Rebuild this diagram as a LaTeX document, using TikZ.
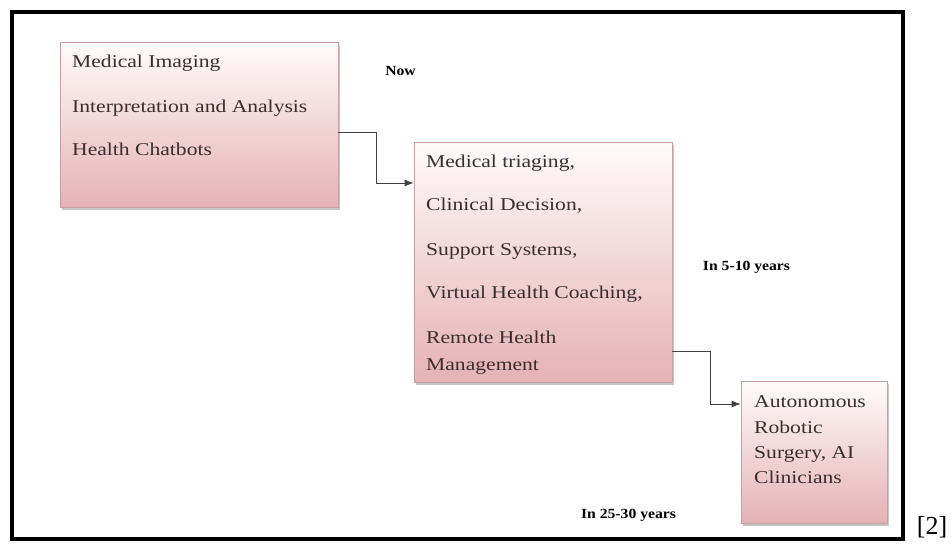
\documentclass[tikz,border=0pt]{standalone}
\usepackage{fontspec}
\setmainfont{Liberation Serif}
\newfontfamily\wideserif[FakeStretch=1.2]{Liberation Serif}
\newfontfamily\widebold[FakeStretch=1.12]{Liberation Serif Bold}
\usetikzlibrary{shadows,arrows.meta}
\definecolor{pinktop}{RGB}{255,251,251}
\definecolor{pinkbot}{RGB}{229,178,180}
\definecolor{boxline}{RGB}{200,160,162}
\definecolor{txt}{RGB}{58,46,46}
\begin{document}
\begin{tikzpicture}[x=1pt,y=-1pt,
  box/.style={draw=boxline,line width=0.8pt,rectangle,top color=pinktop,bottom color=pinkbot,
    drop shadow={shadow xshift=1.5pt,shadow yshift=-2.5pt,fill=black!45,opacity=0.5},inner sep=0pt},
  line/.style={anchor=base west,inner sep=0pt,text=txt,font=\wideserif\fontsize{18}{20}\selectfont},
  lab/.style={inner sep=0pt,font=\widebold\fontsize{14}{16}\selectfont},
  conn/.style={draw=black!75,line width=0.9pt,-{Latex[length=9pt,width=7pt]}}]
\useasboundingbox (0,0) rectangle (952,547);
\node[draw,line width=3.2pt,minimum width=891pt,minimum height=527pt,inner sep=0pt] (frame) at (457.5,275.5) {};
% boxes
\node[box,minimum width=278pt,minimum height=165pt] (b1) at (199,124.5) {};
\node[box,minimum width=258pt,minimum height=240pt] (b2) at (543,262) {};
\node[box,minimum width=146pt,minimum height=142pt] (b3) at (814,452) {};
% box 1 text
\node[line] (t11) at (72,67) {Medical Imaging};
\node[line] (t12) at (72,112) {Interpretation and Analysis};
\node[line] (t13) at (72,155) {Health Chatbots};
% box 2 text
\node[line] (t21) at (426,167) {Medical triaging,};
\node[line] (t22) at (426,210) {Clinical Decision,};
\node[line] (t23) at (426,255) {Support Systems,};
\node[line] (t24) at (426,298) {Virtual Health Coaching,};
\node[line] (t25) at (426,343) {Remote Health};
\node[line] (t26) at (426,370) {Management};
% box 3 text
\node[line] (t31) at (754,407) {Autonomous};
\node[line] (t32) at (754,433) {Robotic};
\node[line] (t33) at (754,458) {Surgery, AI};
\node[line] (t34) at (754,483) {Clinicians};
% labels
\node[lab] (now) at (400.5,71) {Now};
\node[lab] (l1) at (746.5,267) {In 5-10 years};
\node[lab] (l2) at (628.5,515) {In 25-30 years};
\node[inner sep=0pt,font=\fontsize{26}{28}\selectfont] (ref) at (932,527) {[2]};
% connectors
\draw[conn] ([yshift=-7.5pt]b1.east) -- ++(38,0) |- ([yshift=79pt]b2.west);
\draw[conn] ([yshift=-89pt]b2.east) -- ++(38,0) |- ([yshift=48pt]b3.west);
\end{tikzpicture}
\end{document}
